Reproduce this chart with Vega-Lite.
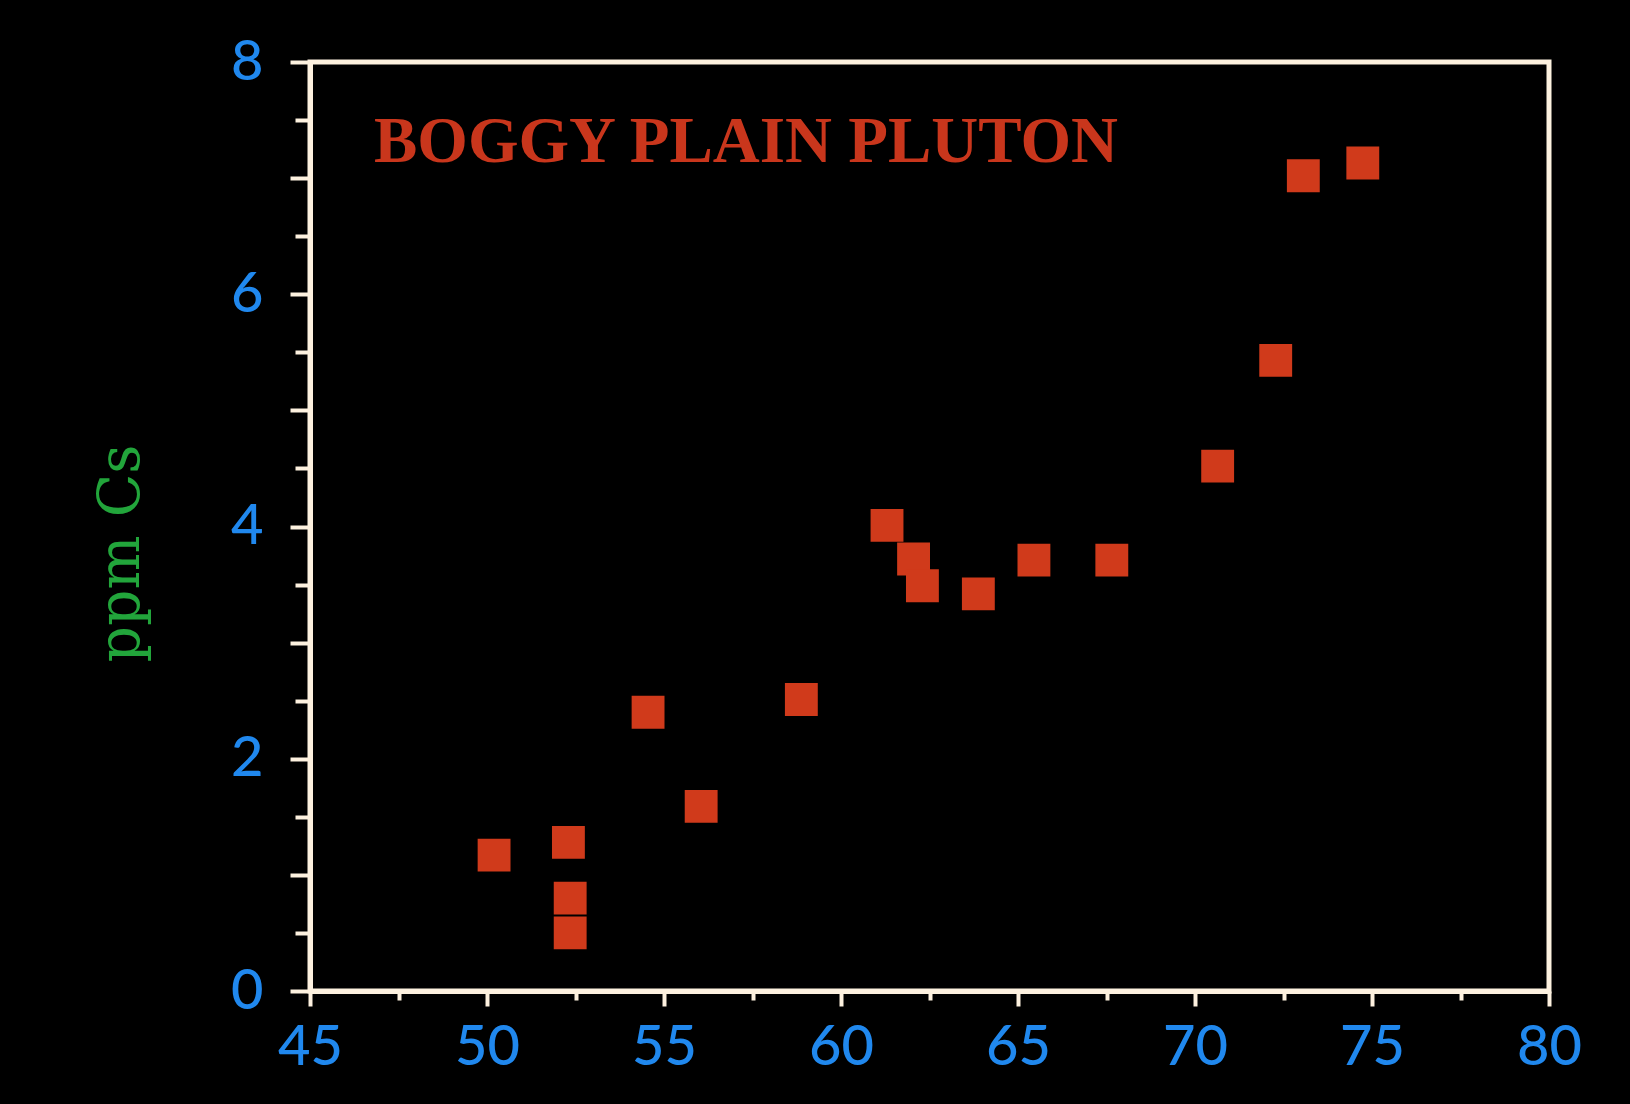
{
  "$schema": "https://vega.github.io/schema/vega-lite/v6.json",
  "width": 1239,
  "height": 929,
  "autosize": "none",
  "padding": {"left": 310, "top": 62, "right": 81, "bottom": 113},
  "background": "#000000",
  "title": {
    "text": "BOGGY PLAIN PLUTON",
    "anchor": "start",
    "frame": "group",
    "orient": "top",
    "offset": -92,
    "baseline": "alphabetic",
    "dx": 64,
    "dy": 101,
    "font": "Liberation Serif",
    "fontWeight": "bold",
    "fontSize": 65,
    "color": "#c9361c"
  },
  "data": {
    "values": [
      {"sio2": 50.2, "cs": 1.17},
      {"sio2": 52.3, "cs": 1.28},
      {"sio2": 52.35, "cs": 0.8},
      {"sio2": 52.35, "cs": 0.5},
      {"sio2": 54.55, "cs": 2.4},
      {"sio2": 56.05, "cs": 1.59},
      {"sio2": 58.88, "cs": 2.51},
      {"sio2": 61.3, "cs": 4.01},
      {"sio2": 62.05, "cs": 3.72},
      {"sio2": 62.3, "cs": 3.49},
      {"sio2": 63.88, "cs": 3.42},
      {"sio2": 65.45, "cs": 3.71},
      {"sio2": 67.65, "cs": 3.71},
      {"sio2": 70.64, "cs": 4.52},
      {"sio2": 72.28, "cs": 5.43},
      {"sio2": 73.06, "cs": 7.02},
      {"sio2": 74.74, "cs": 7.13}
    ]
  },
  "mark": {"type": "point", "shape": "square", "filled": true, "size": 1080, "color": "#d03a1b", "opacity": 1},
  "encoding": {
    "x": {
      "field": "sio2",
      "type": "quantitative",
      "scale": {"domain": [45, 80], "nice": false, "zero": false},
      "axis": {
        "title": null,
        "grid": false,
        "values": [45, 47.5, 50, 52.5, 55, 57.5, 60, 62.5, 65, 67.5, 70, 72.5, 75, 77.5, 80],
        "labelExpr": "datum.value % 5 === 0 ? format(datum.value, 'd') : ''",
        "tickSize": {"condition": {"test": "datum.value % 5 === 0", "value": 15}, "value": 9},
        "tickWidth": 4,
        "tickColor": "#fdf1df",
        "domainColor": "#fdf1df",
        "domainWidth": 5,
        "labelFont": "Lato",
        "labelFontSize": 56,
        "labelFontWeight": 500,
        "labelColor": "#2088ee",
        "labelPadding": 14,
        "labelFlush": false,
        "labelOverlap": false
      }
    },
    "y": {
      "field": "cs",
      "type": "quantitative",
      "scale": {"domain": [0, 8], "nice": false, "zero": true},
      "axis": {
        "title": "ppm Cs",
        "titleFont": "DejaVu Serif",
        "titleFontWeight": "normal",
        "titleFontSize": 57,
        "titleColor": "#22a53b",
        "titlePadding": 80,
        "titleY": 491,
        "grid": false,
        "values": [0, 0.5, 1, 1.5, 2, 2.5, 3, 3.5, 4, 4.5, 5, 5.5, 6, 6.5, 7, 7.5, 8],
        "labelExpr": "datum.value % 2 === 0 ? format(datum.value, 'd') : ''",
        "tickSize": {"condition": {"test": "datum.value % 1 === 0", "value": 20}, "value": 15},
        "tickWidth": 4,
        "tickColor": "#fdf1df",
        "domainColor": "#fdf1df",
        "domainWidth": 5,
        "labelFont": "Lato",
        "labelFontSize": 56,
        "labelFontWeight": 500,
        "labelColor": "#2088ee",
        "labelPadding": 27,
        "labelFlush": false,
        "labelOverlap": false
      }
    }
  },
  "config": {
    "view": {"stroke": "#fdf1df", "strokeWidth": 5}
  }
}
